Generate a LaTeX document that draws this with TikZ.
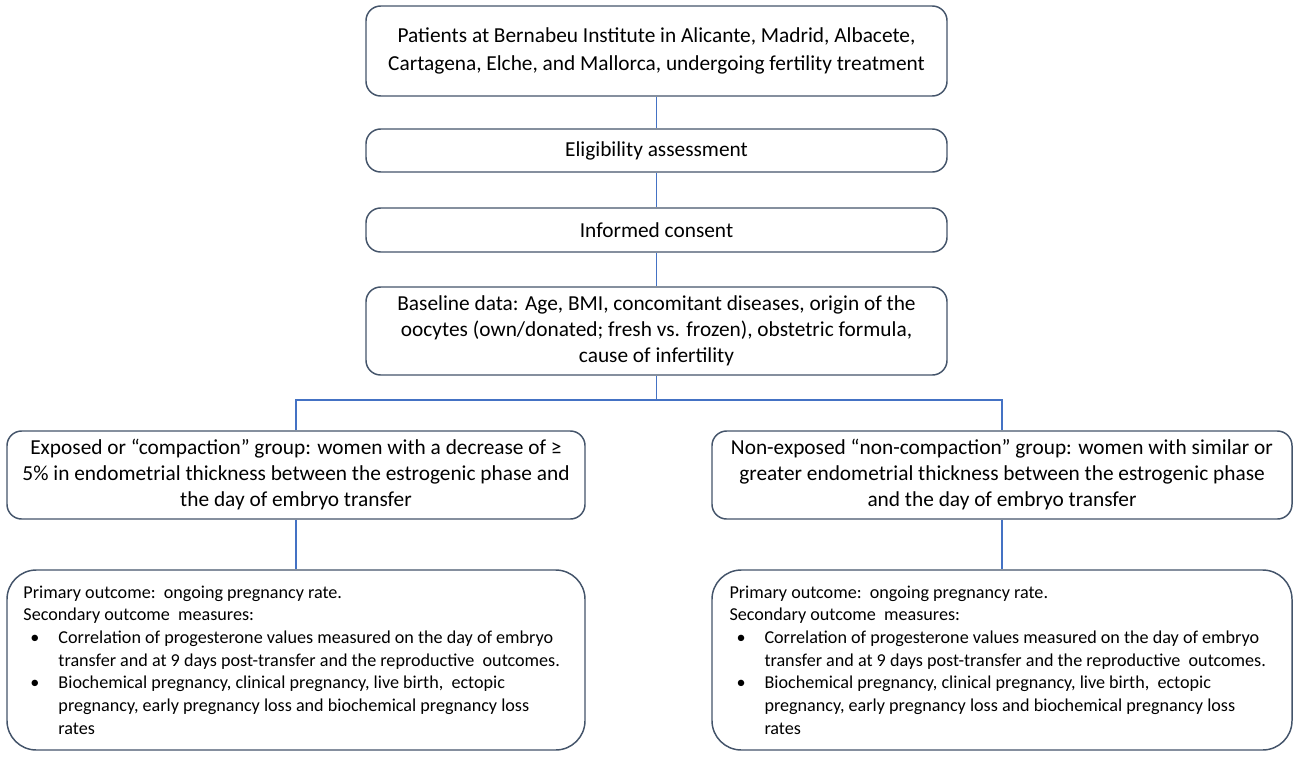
\documentclass[tikz,border=0pt]{standalone}
\usepackage{fontspec}
\setmainfont{Carlito}
\definecolor{boxline}{HTML}{44546A}
\definecolor{conn}{HTML}{4472C4}
\newdimen\pxu \pxu=0.75pt
\begin{document}
\begin{tikzpicture}[x=0.75pt,y=-0.75pt,
  box/.style={draw=boxline,line width=1.1pt,rounded corners=11pt,fill=white,
    inner sep=0pt,align=center,font=\fontsize{16}{19.5}\selectfont},
  obox/.style={draw=boxline,line width=1.1pt,rounded corners=22pt,fill=white,
    inner sep=0pt,align=left,font=\fontsize{13.6}{17}\selectfont},
  conn/.style={draw=conn,line width=0.8pt}]
\useasboundingbox (0,0) rectangle (1299,757);
\node[box,minimum width=581*\pxu,minimum height=90*\pxu] (p) at (656.5,51)
  {Patients at Bernabeu Institute in Alicante, Madrid, Albacete,\\[1pt]Cartagena, Elche, and Mallorca, undergoing fertility treatment};
\node[box,minimum width=581*\pxu,minimum height=43*\pxu] (e) at (656.5,150.5) {Eligibility assessment};
\node[box,minimum width=581*\pxu,minimum height=44*\pxu] (c) at (656.5,230) {Informed consent};
\node[box,minimum width=581*\pxu,minimum height=88*\pxu] (b) at (656.5,331)
  {Baseline data: Age, BMI, concomitant diseases, origin of the\\oocytes (own/donated; fresh vs. frozen), obstetric formula,\\cause of infertility};
\node[box,minimum width=578*\pxu,minimum height=88*\pxu] (g1) at (296,475)
  {Exposed or “compaction” group: women with a decrease of ≥\\5\% in endometrial thickness between the estrogenic phase and\\the day of embryo transfer};
\node[box,minimum width=580*\pxu,minimum height=88*\pxu] (g2) at (1002,475)
  {Non-exposed “non-compaction” group: women with similar or\\greater endometrial thickness between the estrogenic phase\\and the day of embryo transfer};
\newcommand{\outtext}{\begin{minipage}{545\pxu}\raggedright\hyphenpenalty=10000
Primary outcome:\ \ ongoing pregnancy rate.\\
Secondary outcome\ \ measures:\\
\hspace*{7\pxu}\makebox[28\pxu][l]{•}Correlation of progesterone values measured on the day of embryo\\
\hspace*{35\pxu}transfer and at 9 days post-transfer and the reproductive\ \ outcomes.\\
\hspace*{7\pxu}\makebox[28\pxu][l]{•}Biochemical pregnancy, clinical pregnancy, live birth,\ \ ectopic\\
\hspace*{35\pxu}pregnancy, early pregnancy loss and biochemical pregnancy loss\\
\hspace*{35\pxu}rates
\end{minipage}}
\node[obox,minimum width=578*\pxu,minimum height=180*\pxu] (o1) at (296,660) {\outtext};
\node[obox,minimum width=580*\pxu,minimum height=180*\pxu] (o2) at (1002,660) {\outtext};
\draw[conn] (p.south) -- (e.north);
\draw[conn] (e.south) -- (c.north);
\draw[conn] (c.south) -- (b.north);
\coordinate (j) at (656.5,400);
\draw[conn] (b.south) -- (j);
\draw[conn] (g1.north) |- (j) -| (g2.north);
\draw[conn] (g1.south) -- (o1.north);
\draw[conn] (g2.south) -- (o2.north);
\end{tikzpicture}
\end{document}
